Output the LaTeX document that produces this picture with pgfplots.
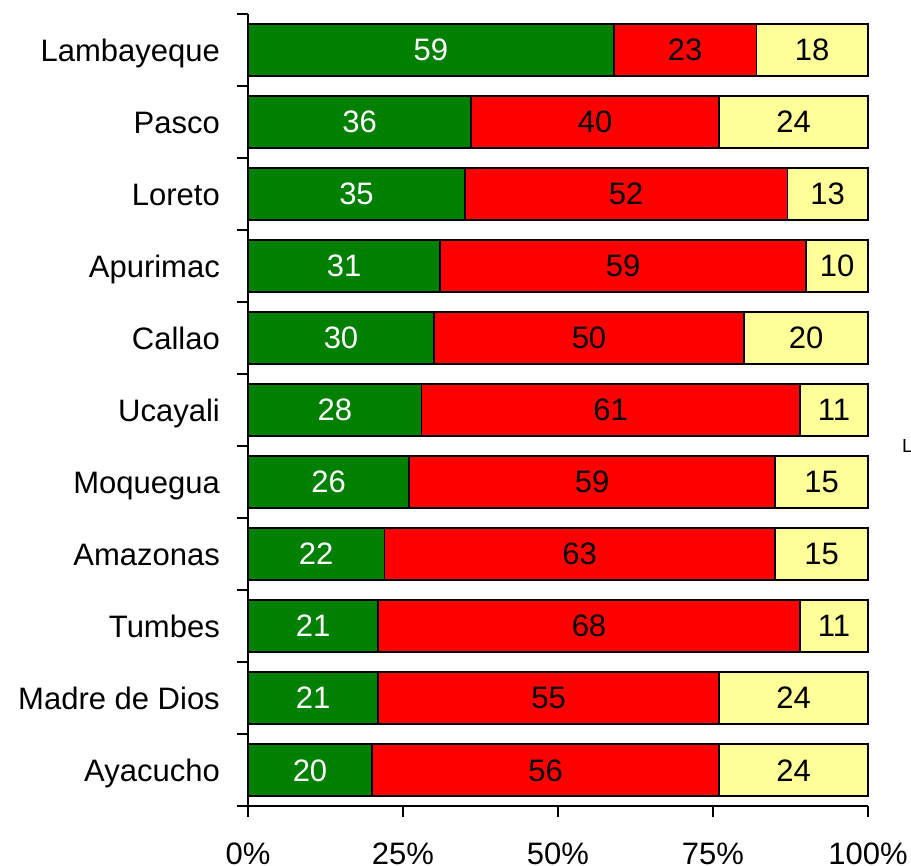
\documentclass[border=0pt]{standalone}
\usepackage{pgfplots}
\pgfplotsset{compat=1.18}
\usepackage{pgfplotstable}
\usepackage{fontspec}
\setmainfont{Liberation Sans}
\definecolor{cgreen}{RGB}{0,128,0}
\definecolor{cred}{RGB}{255,0,0}
\definecolor{cyellow}{RGB}{255,255,153}
\newcommand{\bigf}{\fontsize{31bp}{37bp}\selectfont}
\newcommand{\smallf}{\fontsize{19bp}{23bp}\selectfont}

\pgfplotstableread{
idx g r y
0 20 56 24
1 21 55 24
2 21 68 11
3 22 63 15
4 26 59 15
5 28 61 11
6 30 50 20
7 31 59 10
8 35 52 13
9 36 40 24
10 59 23 18
}\datatable
\pgfplotstablecreatecol[create col/expr={\thisrow{g}+\thisrow{r}}]{gr}\datatable
\pgfplotstablecreatecol[create col/expr={\thisrow{g}+\thisrow{r}+\thisrow{y}}]{tot}\datatable
\pgfplotstablecreatecol[create col/expr={\thisrow{g}/2}]{cg}\datatable
\pgfplotstablecreatecol[create col/expr={\thisrow{g}+\thisrow{r}/2}]{cr}\datatable
\pgfplotstablecreatecol[create col/expr={\thisrow{g}+\thisrow{r}+\thisrow{y}/2}]{cy}\datatable

\begin{document}
\begin{tikzpicture}
\begin{axis}[
  at={(248bp,60bp)}, anchor=south west,
  width=620bp, height=792bp, scale only axis,
  xmin=0, xmax=100, ymin=-0.5, ymax=10.5,
  axis x line*=bottom, axis y line*=left,
  axis line style={line width=1.5bp, black},
  tick style={line width=1.5bp, black},
  tick align=outside,
  major tick length=11bp,
  xtick={0,25,50,75,100},
  xticklabels={0\%,25\%,50\%,75\%,100\%},
  xticklabel style={font=\bigf, anchor=base, yshift=-48bp},
  ytick={-0.5,0.5,...,10.5},
  yticklabels={},
  extra y ticks={0,1,2,3,4,5,6,7,8,9,10},
  extra y tick labels={Ayacucho,Madre de Dios,Tumbes,Amazonas,Moquegua,Ucayali,Callao,Apurimac,Loreto,Pasco,Lambayeque},
  extra y tick style={major tick length=0pt},
  yticklabel style={font=\bigf, anchor=base east, inner sep=0pt, xshift=-28bp, yshift=-11.5bp},
  clip=false,
]
\addplot[xbar, bar width=0.72, bar shift=0pt, fill=cyellow, draw=black, line width=1.5bp] table[x=tot, y=idx]{\datatable};
\addplot[xbar, bar width=0.72, bar shift=0pt, fill=cred, draw=black, line width=1.5bp] table[x=gr, y=idx]{\datatable};
\addplot[xbar, bar width=0.72, bar shift=0pt, fill=cgreen, draw=black, line width=1.5bp] table[x=g, y=idx]{\datatable};
\addplot[draw=none, mark=none, nodes near coords, point meta=explicit symbolic,
  every node near coord/.append style={font=\bigf, text=white, anchor=base, inner sep=0pt, yshift=-11bp}]
  table[x=cg, y=idx, meta=g]{\datatable};
\addplot[draw=none, mark=none, nodes near coords, point meta=explicit symbolic,
  every node near coord/.append style={font=\bigf, text=black, anchor=base, inner sep=0pt, yshift=-11bp}]
  table[x=cr, y=idx, meta=r]{\datatable};
\addplot[draw=none, mark=none, nodes near coords, point meta=explicit symbolic,
  every node near coord/.append style={font=\bigf, text=black, anchor=base, inner sep=0pt, yshift=-11bp}]
  table[x=cy, y=idx, meta=y]{\datatable};
\end{axis}
\node[anchor=base west, inner sep=0pt, font=\smallf] at (902bp,413bp) {L};
\pgfresetboundingbox
\path[use as bounding box] (0,0) rectangle (911bp,866bp);
\end{tikzpicture}
\end{document}
